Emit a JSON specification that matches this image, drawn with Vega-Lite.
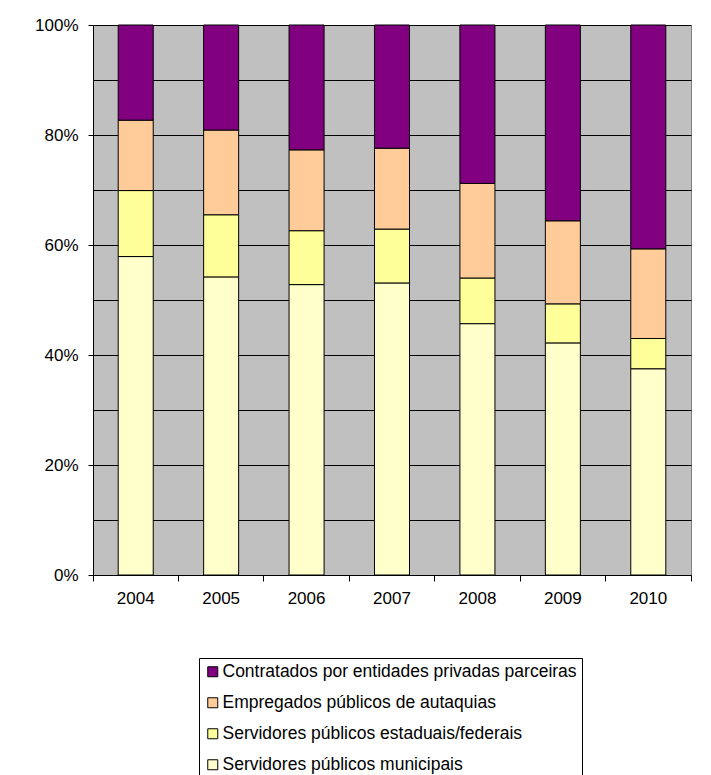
{
  "$schema": "https://vega.github.io/schema/vega-lite/v6.json",
  "width": 598,
  "height": 550,
  "autosize": "none",
  "padding": {"left": 93, "top": 25, "right": 20, "bottom": 200},
  "background": "white",
  "config": {
    "font": "Liberation Sans",
    "view": {"fill": "#C0C0C0", "stroke": "#808080", "strokeWidth": 1},
    "axis": {"labelFont": "Liberation Sans", "labelFontSize": 17, "labelColor": "black", "domainColor": "black", "tickColor": "black", "gridColor": "black", "gridOpacity": 1, "tickSize": 6, "title": null}
  },
  "data": {
    "values": [
      {"year": "2004", "cat": "Servidores públicos municipais", "ord": 1, "value": 57.9},
      {"year": "2004", "cat": "Servidores públicos estaduais/federais", "ord": 2, "value": 12.0},
      {"year": "2004", "cat": "Empregados públicos de autaquias", "ord": 3, "value": 12.8},
      {"year": "2004", "cat": "Contratados por entidades privadas parceiras", "ord": 4, "value": 17.3},
      {"year": "2005", "cat": "Servidores públicos municipais", "ord": 1, "value": 54.2},
      {"year": "2005", "cat": "Servidores públicos estaduais/federais", "ord": 2, "value": 11.3},
      {"year": "2005", "cat": "Empregados públicos de autaquias", "ord": 3, "value": 15.4},
      {"year": "2005", "cat": "Contratados por entidades privadas parceiras", "ord": 4, "value": 19.1},
      {"year": "2006", "cat": "Servidores públicos municipais", "ord": 1, "value": 52.8},
      {"year": "2006", "cat": "Servidores públicos estaduais/federais", "ord": 2, "value": 9.8},
      {"year": "2006", "cat": "Empregados públicos de autaquias", "ord": 3, "value": 14.7},
      {"year": "2006", "cat": "Contratados por entidades privadas parceiras", "ord": 4, "value": 22.7},
      {"year": "2007", "cat": "Servidores públicos municipais", "ord": 1, "value": 53.1},
      {"year": "2007", "cat": "Servidores públicos estaduais/federais", "ord": 2, "value": 9.8},
      {"year": "2007", "cat": "Empregados públicos de autaquias", "ord": 3, "value": 14.7},
      {"year": "2007", "cat": "Contratados por entidades privadas parceiras", "ord": 4, "value": 22.4},
      {"year": "2008", "cat": "Servidores públicos municipais", "ord": 1, "value": 45.7},
      {"year": "2008", "cat": "Servidores públicos estaduais/federais", "ord": 2, "value": 8.3},
      {"year": "2008", "cat": "Empregados públicos de autaquias", "ord": 3, "value": 17.2},
      {"year": "2008", "cat": "Contratados por entidades privadas parceiras", "ord": 4, "value": 28.8},
      {"year": "2009", "cat": "Servidores públicos municipais", "ord": 1, "value": 42.2},
      {"year": "2009", "cat": "Servidores públicos estaduais/federais", "ord": 2, "value": 7.1},
      {"year": "2009", "cat": "Empregados públicos de autaquias", "ord": 3, "value": 15.1},
      {"year": "2009", "cat": "Contratados por entidades privadas parceiras", "ord": 4, "value": 35.6},
      {"year": "2010", "cat": "Servidores públicos municipais", "ord": 1, "value": 37.5},
      {"year": "2010", "cat": "Servidores públicos estaduais/federais", "ord": 2, "value": 5.5},
      {"year": "2010", "cat": "Empregados públicos de autaquias", "ord": 3, "value": 16.3},
      {"year": "2010", "cat": "Contratados por entidades privadas parceiras", "ord": 4, "value": 40.7}
    ]
  },
  "mark": {"type": "bar", "width": {"band": 0.41}, "stroke": "black", "strokeWidth": 1},
  "encoding": {
    "x": {
      "field": "year", "type": "ordinal",
      "scale": {"paddingInner": 0, "paddingOuter": 0},
      "axis": {"labelAngle": 0, "bandPosition": 1, "tickExtra": true, "labelPadding": 9, "grid": false, "domainWidth": 1}
    },
    "y": {
      "field": "value", "type": "quantitative", "stack": "normalize",
      "scale": {"domain": [0, 1], "nice": false},
      "axis": {
        "values": [0, 0.1, 0.2, 0.3, 0.4, 0.5, 0.6, 0.7, 0.8, 0.9, 1],
        "format": ".0%",
        "labelExpr": "round(datum.value*10)%2==1 ? '' : datum.label",
        "tickOpacity": {"condition": {"test": "round(datum.value*10)%2==1", "value": 0}, "value": 1},
        "grid": true,
        "labelPadding": 10,
        "tickSize": 5
      }
    },
    "color": {
      "field": "cat", "type": "nominal",
      "scale": {
        "domain": ["Contratados por entidades privadas parceiras", "Empregados públicos de autaquias", "Servidores públicos estaduais/federais", "Servidores públicos municipais"],
        "range": ["#800080", "#FFCC99", "#FFFF99", "#FFFFCC"]
      },
      "legend": {
        "orient": "none", "legendX": 106, "legendY": 633,
        "title": null,
        "symbolType": "square", "symbolSize": 100, "symbolStrokeColor": "black", "symbolStrokeWidth": 1, "symbolOpacity": 1,
        "labelFont": "Liberation Sans", "labelFontSize": 17.5, "labelColor": "black", "labelLimit": 500, "labelOffset": 1,
        "rowPadding": 12, "padding": 5,
        "strokeColor": "black", "fillColor": "white"
      }
    },
    "order": {"field": "ord", "type": "quantitative"}
  }
}
